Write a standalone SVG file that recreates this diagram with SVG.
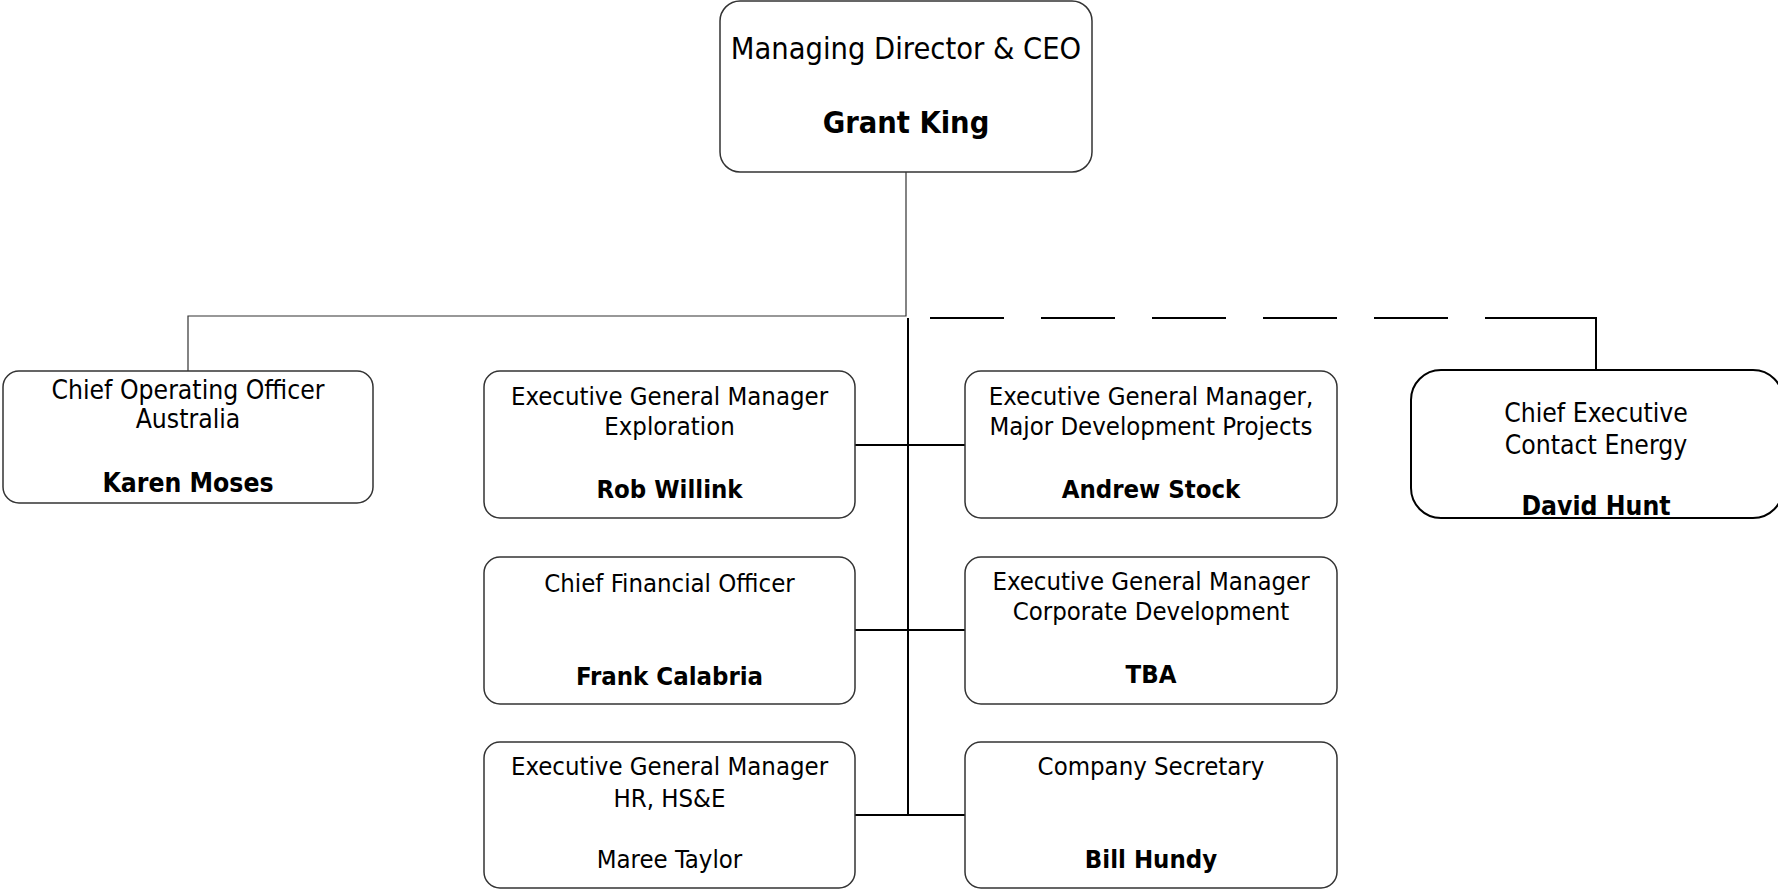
<svg xmlns="http://www.w3.org/2000/svg" width="1778" height="890" viewBox="0 0 1778 890">
<style>
text{font-family:"DejaVu Sans Condensed","DejaVu Sans",sans-serif;fill:#000;text-anchor:middle}
.t{font-size:25.5px}
.c{font-size:26.3px}
.b{font-weight:bold}
.big{font-size:30.5px}
.box{fill:#fff;stroke:#333;stroke-width:1.5}
.thin{fill:none;stroke:#333;stroke-width:1.2}
.thick{fill:none;stroke:#000;stroke-width:2}
</style>
<rect width="1778" height="890" fill="#fff"/>
<g id="connectors">
<path class="thin" d="M906,172 V316 H188 V371"/>
<path class="thick" d="M908,318 V815"/>
<path class="thick" d="M855,445 H965"/>
<path class="thick" d="M855,630 H965"/>
<path class="thick" d="M855,815 H965"/>
<path class="thick" d="M930,318 H1485" stroke-dasharray="74 37"/>
<path class="thick" d="M1485,318 H1596 V370"/>
</g>
<g id="ceo">
<rect class="box" x="720" y="1" width="372" height="171" rx="20"/>
<text class="big" x="906" y="59">Managing Director &amp; CEO</text>
<text class="big b" x="906" y="133">Grant King</text>
</g>
<g id="coo">
<rect class="box" x="3" y="371" width="370" height="132" rx="16"/>
<text class="c" x="188" y="399">Chief Operating Officer</text>
<text class="c" x="188" y="428">Australia</text>
<text class="c b" x="188" y="492">Karen Moses</text>
</g>
<g id="exploration">
<rect class="box" x="484" y="371" width="371" height="147" rx="16"/>
<text class="t" x="669.5" y="405">Executive General Manager</text>
<text class="t" x="669.5" y="435">Exploration</text>
<text class="t b" x="669.5" y="498">Rob Willink</text>
</g>
<g id="major-dev">
<rect class="box" x="965" y="371" width="372" height="147" rx="16"/>
<text class="t" x="1151" y="405">Executive General Manager,</text>
<text class="t" x="1151" y="435">Major Development Projects</text>
<text class="t b" x="1151" y="498">Andrew Stock</text>
</g>
<g id="contact">
<rect x="1411" y="370" width="372" height="148" rx="30" fill="#fff" stroke="#000" stroke-width="2"/>
<text class="c" x="1596" y="422">Chief Executive</text>
<text class="c" x="1596" y="454">Contact Energy</text>
<text class="c b" x="1596" y="515">David Hunt</text>
</g>
<g id="cfo">
<rect class="box" x="484" y="557" width="371" height="147" rx="16"/>
<text class="t" x="669.5" y="592">Chief Financial Officer</text>
<text class="t b" x="669.5" y="685">Frank Calabria</text>
</g>
<g id="corp-dev">
<rect class="box" x="965" y="557" width="372" height="147" rx="16"/>
<text class="t" x="1151" y="590">Executive General Manager</text>
<text class="t" x="1151" y="620">Corporate Development</text>
<text class="t b" x="1151" y="683">TBA</text>
</g>
<g id="hr">
<rect class="box" x="484" y="742" width="371" height="146" rx="16"/>
<text class="t" x="669.5" y="775">Executive General Manager</text>
<text class="t" x="669.5" y="807">HR, HS&amp;E</text>
<text class="t" x="669.5" y="868">Maree Taylor</text>
</g>
<g id="secretary">
<rect class="box" x="965" y="742" width="372" height="146" rx="16"/>
<text class="t" x="1151" y="775">Company Secretary</text>
<text class="t b" x="1151" y="868">Bill Hundy</text>
</g>
</svg>
